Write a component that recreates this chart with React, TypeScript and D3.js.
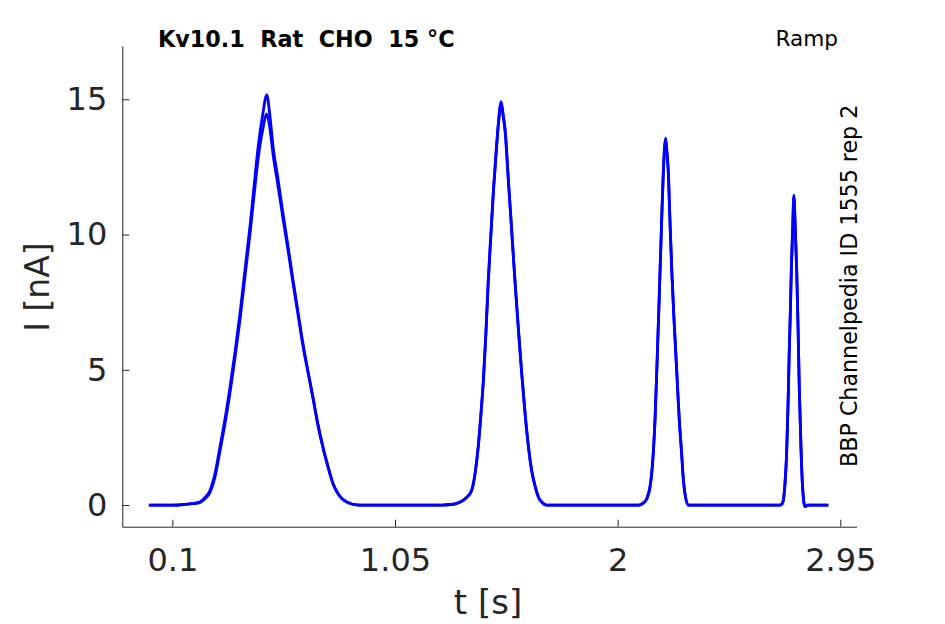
import { useEffect, useRef } from 'react';
import * as d3 from 'd3';

// time samples [s], shared by both repetitions
const timeS = [
  0, 0.05, 0.10, 0.15, 0.19, 0.219, 0.240, 0.261, 0.283, 0.303, 0.325, 0.346, 0.368, 0.389, 0.410,
  0.431, 0.450, 0.466, 0.485, 0.503, 0.515, 0.530, 0.550, 0.572, 0.594, 0.615, 0.636, 0.657, 0.680,
  0.700, 0.720, 0.743, 0.765, 0.785, 0.810, 0.845, 0.870, 0.900,
  1.00, 1.15, 1.25, 1.30, 1.327, 1.355, 1.377, 1.392, 1.405, 1.416, 1.427, 1.438, 1.448, 1.459, 1.470,
  1.481, 1.491, 1.503, 1.512, 1.520, 1.534, 1.548, 1.562, 1.577, 1.591, 1.605, 1.619, 1.633, 1.648,
  1.662, 1.680, 1.697, 1.75, 1.85, 1.95, 2.05, 2.09,
  2.109, 2.125, 2.138, 2.145, 2.152, 2.160, 2.167, 2.174, 2.181, 2.188, 2.195, 2.205, 2.210, 2.216,
  2.223, 2.231, 2.241, 2.252, 2.262, 2.273, 2.280, 2.287, 2.301, 2.35, 2.45, 2.55, 2.65, 2.69,
  2.70, 2.707, 2.714, 2.721, 2.727, 2.732, 2.737, 2.741, 2.747, 2.752, 2.758, 2.764, 2.770, 2.775,
  2.782, 2.789, 2.794, 2.799, 2.81, 2.85, 2.899,
];

// current [nA], repetition 1
const currentRep1 = [
  0, 0, 0, 0.02, 0.06, 0.12, 0.28, 0.55, 1.2, 2.14, 3.2, 4.36, 5.7, 7.10, 8.7,
  10.28, 11.9, 13.23, 14.4, 15.16, 14.5, 13.23, 12.1, 10.79, 9.55, 8.32, 7.15, 5.99, 4.9,
  3.99, 3.05, 2.14, 1.4, 0.81, 0.38, 0.11, 0.03, 0,
  0, 0, 0, 0.03, 0.11, 0.28, 0.55, 1.2, 2.16, 3.3, 4.62, 6.4, 8.32, 10.0, 11.65,
  13.0, 14.12, 14.91, 14.4, 13.86, 12.0, 10.17, 8.3, 6.47, 4.85, 3.40, 2.2, 1.29, 0.7,
  0.30, 0.08, 0, 0, 0, 0, 0, 0,
  0.07, 0.25, 0.68, 1.15, 1.92, 3.3, 4.99, 6.8, 8.69, 10.6, 12.38, 13.56, 13.1, 12.38,
  10.6, 8.69, 6.8, 4.99, 3.3, 1.92, 1.0, 0.44, 0, 0, 0, 0, 0, 0,
  0.03, 0.18, 0.8, 1.92, 3.7, 5.62, 7.2, 8.69, 10.3, 11.46, 10.2, 8.69, 6.5, 4.37,
  2.2, 0.68, 0.15, -0.06, 0, 0, 0,
];

// current [nA], repetition 2
const currentRep2 = [
  0, 0, 0, 0.02, 0.05, 0.10, 0.24, 0.48, 1.08, 1.98, 3.02, 4.15, 5.48, 6.88, 8.45,
  10.0, 11.55, 12.8, 13.85, 14.45, 14.0, 12.95, 11.85, 10.6, 9.4, 8.2, 7.05, 5.9, 4.85,
  3.95, 3.0, 2.1, 1.38, 0.8, 0.37, 0.11, 0.03, 0,
  0, 0, 0, 0.03, 0.10, 0.27, 0.53, 1.17, 2.12, 3.25, 4.56, 6.33, 8.25, 9.93, 11.58,
  12.93, 14.05, 14.85, 14.35, 13.8, 11.95, 10.12, 8.25, 6.43, 4.82, 3.38, 2.18, 1.28, 0.69,
  0.29, 0.08, 0, 0, 0, 0, 0, 0,
  0.07, 0.24, 0.66, 1.13, 1.89, 3.26, 4.94, 6.74, 8.63, 10.54, 12.3, 13.5, 13.05, 12.32,
  10.55, 8.64, 6.76, 4.96, 3.28, 1.9, 0.99, 0.43, 0, 0, 0, 0, 0, 0,
  0.03, 0.17, 0.78, 1.9, 3.66, 5.58, 7.15, 8.64, 10.25, 11.4, 10.15, 8.64, 6.46, 4.34,
  2.18, 0.67, 0.14, -0.06, 0, 0, 0,
];

const xTicks = [0.1, 1.05, 2, 2.95];
const yTicks = [0, 5, 10, 15];

const width = 945;
const height = 624;
const font = '"DejaVu Sans", sans-serif';
const axisColor = '#262626';

export default function App() {
  const svgRef = useRef<SVGSVGElement>(null);

  useEffect(() => {
    if (!svgRef.current) return;
    const svg = d3.select(svgRef.current);
    svg.selectAll('*').remove();

    const x = d3.scaleLinear().domain([-0.1135, 3.02]).range([122.3, 856.7]);
    const y = d3.scaleLinear().domain([-0.8, 16.97]).range([526.7, 46]);

    // traces
    const line = d3.line<number>()
      .x((_d, i) => x(timeS[i]))
      .y((d) => y(d))
      .curve(d3.curveMonotoneX);

    svg.append('g')
      .selectAll('path')
      .data([currentRep1, currentRep2])
      .join('path')
      .attr('d', (d) => line(d))
      .attr('fill', 'none')
      .attr('stroke', '#0000ff')
      .attr('stroke-width', 2.8)
      .attr('stroke-linejoin', 'round');

    // axes
    const xAxis = d3.axisBottom(x)
      .tickValues(xTicks)
      .tickFormat((d) => String(d))
      .tickSizeInner(-7)
      .tickSizeOuter(0)
      .tickPadding(22);

    const yAxis = d3.axisLeft(y)
      .tickValues(yTicks)
      .tickFormat((d) => String(d))
      .tickSizeInner(-7)
      .tickSizeOuter(0)
      .tickPadding(15);

    const gx = svg.append('g')
      .attr('transform', `translate(0,${y.range()[0]})`)
      .call(xAxis);
    const gy = svg.append('g')
      .attr('transform', `translate(${x.range()[0]},0)`)
      .call(yAxis);

    [gx, gy].forEach((g) => {
      g.select('.domain').attr('stroke', axisColor).attr('stroke-width', 1);
      g.selectAll('.tick line').attr('stroke', axisColor).attr('stroke-width', 1);
      g.selectAll('.tick text')
        .attr('fill', axisColor)
        .style('font-family', font)
        .style('font-size', '32px');
    });

    // labels
    svg.append('text')
      .attr('x', 488)
      .attr('y', 614)
      .attr('text-anchor', 'middle')
      .attr('fill', axisColor)
      .style('font-family', font)
      .style('font-size', '34px')
      .text('t [s]');

    svg.append('text')
      .attr('transform', 'translate(49.3,287) rotate(-90)')
      .attr('text-anchor', 'middle')
      .attr('fill', axisColor)
      .style('font-family', font)
      .style('font-size', '33px')
      .text('I [nA]');

    svg.append('text')
      .attr('x', 158)
      .attr('y', 46.7)
      .attr('fill', '#000')
      .style('font-family', font)
      .style('font-size', '22.3px')
      .style('font-weight', 'bold')
      .style('white-space', 'pre')
      .text('Kv10.1  Rat  CHO  15 °C');

    svg.append('text')
      .attr('x', 775.5)
      .attr('y', 46)
      .attr('fill', '#000')
      .style('font-family', font)
      .style('font-size', '21.6px')
      .text('Ramp');

    svg.append('text')
      .attr('transform', 'translate(857.3,467) rotate(-90)')
      .attr('fill', '#000')
      .style('font-family', font)
      .style('font-size', '22.2px')
      .text('BBP Channelpedia ID 1555 rep 2');
  }, []);

  return (
    <svg
      ref={svgRef}
      width={width}
      height={height}
      style={{ position: 'absolute', left: 0, top: 0, background: '#fff' }}
    />
  );
}
